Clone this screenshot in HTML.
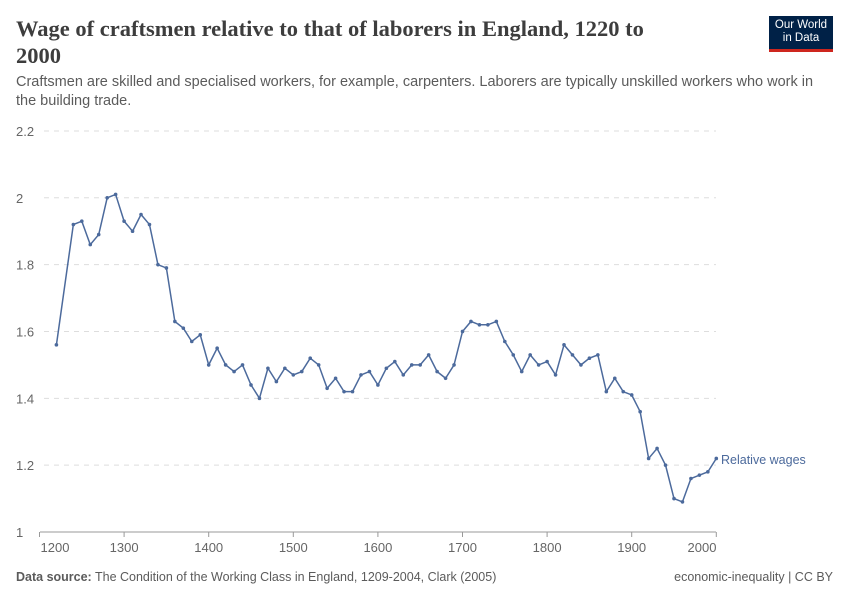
<!DOCTYPE html>
<html><head><meta charset="utf-8"><style>
body{margin:0;background:#fff;font-family:"Liberation Sans",sans-serif;}
.wrap{position:relative;width:850px;height:600px;overflow:hidden;}
h1{position:absolute;left:16px;top:15px;margin:0;font-family:"Liberation Serif",serif;font-weight:bold;font-size:22.5px;line-height:27px;color:#3d3d3d;width:650px;}
.sub{position:absolute;left:16px;top:73px;font-size:14.5px;line-height:19px;color:#5b5b5b;width:810px;}
.logo{position:absolute;left:769px;top:16px;width:64px;height:36px;background:#002147;color:#fff;font-size:11.5px;line-height:13px;text-align:center;padding-top:3px;box-sizing:border-box;border-bottom:3px solid #ce261e;}
.foot{position:absolute;top:570px;font-size:12.5px;color:#5b5b5b;}
</style></head><body><div class="wrap">
<h1>Wage of craftsmen relative to that of laborers in England, 1220 to 2000</h1>
<div class="sub">Craftsmen are skilled and specialised workers, for example, carpenters. Laborers are typically unskilled workers who work in the building trade.</div>
<div class="logo">Our World<br>in Data</div>
<svg id="c" width="850" height="600" style="position:absolute;left:0;top:0" font-family="Liberation Sans, sans-serif"></svg>
<div class="foot" style="left:16px"><b>Data source:</b> The Condition of the Working Class in England, 1209-2004, Clark (2005)</div>
<div class="foot" style="right:17px">economic-inequality | CC BY</div>
</div>
<script>
var s='',svg=document.getElementById('c');
function Y(v){return 532-(v-1)*334.2;}
function X(y){return 39.5+0.846*(y-1200);}
[1,1.2,1.4,1.6,1.8,2,2.2].forEach(function(v){
 var y=Y(v);
 if(v>1)s+='<line x1="44" x2="716" y1="'+y+'" y2="'+y+'" stroke="#ddd" stroke-dasharray="5,5"/>';
 s+='<text x="16" y="'+(y+5)+'" font-size="13" fill="#666">'+v+'</text>';});
s+='<line x1="40" x2="716" y1="532" y2="532" stroke="#999"/>';
for(var yr=1200;yr<=2000;yr+=100){var x=X(yr);s+='<line x1="'+x+'" x2="'+x+'" y1="532" y2="537" stroke="#999"/>';
 var tx=yr==1200?55:(yr==2000?702:x);s+='<text x="'+tx+'" y="552" font-size="13" fill="#666" text-anchor="middle">'+yr+'</text>';}
var d=[1.92,1.93,1.86,1.89,2.00,2.01,1.93,1.90,1.95,1.92,1.80,1.79,1.63,1.61,1.57,1.59,1.50,1.55,1.50,1.48,1.50,1.44,1.40,1.49,1.45,1.49,1.47,1.48,1.52,1.50,1.43,1.46,1.42,1.42,1.47,1.48,1.44,1.49,1.51,1.47,1.50,1.50,1.53,1.48,1.46,1.50,1.60,1.63,1.62,1.62,1.63,1.57,1.53,1.48,1.53,1.50,1.51,1.47,1.56,1.53,1.50,1.52,1.53,1.42,1.46,1.42,1.41,1.36,1.22,1.25,1.20,1.10,1.09,1.16,1.17,1.18,1.22];
var pts=[[X(1220),Y(1.56)]];d.forEach(function(v,i){pts.push([X(1240+10*i),Y(v)]);});
s+='<polyline fill="none" stroke="#4c6a9c" stroke-width="1.5" points="'+pts.map(function(p){return p.join(',')}).join(' ')+'"/>';
pts.forEach(function(p){s+='<circle cx="'+p[0]+'" cy="'+p[1]+'" r="1.8" fill="#4c6a9c"/>';});
s+='<text x="721" y="464" font-size="12.5" fill="#4c6a9c">Relative wages</text>';
svg.innerHTML=s;
</script></body></html>
